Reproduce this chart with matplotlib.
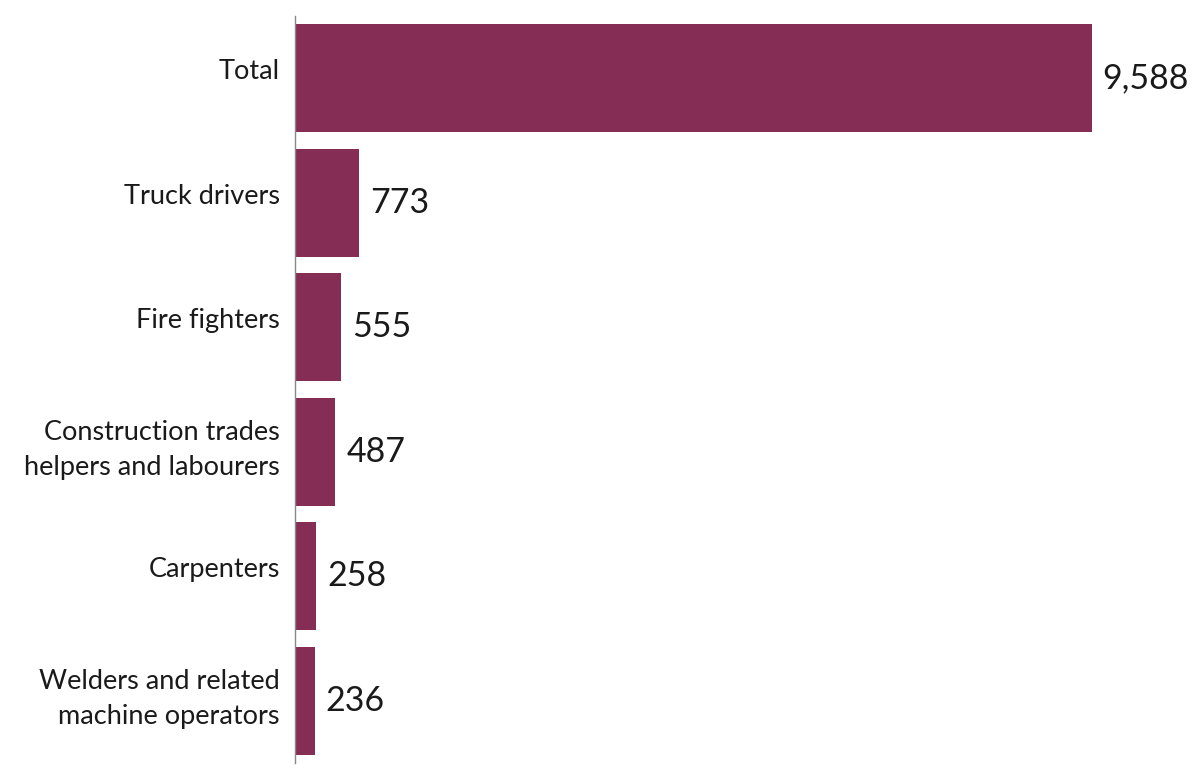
import matplotlib
matplotlib.use("Agg")
import matplotlib.pyplot as plt
from matplotlib.transforms import ScaledTranslation

# occupations and counts
categories = ["Total", "Truck drivers", "Fire fighters",
              "Construction trades\nhelpers and labourers", "Carpenters",
              "Welders and related\nmachine operators"]
values = [9588, 773, 555, 487, 258, 236]

plt.rcParams['font.family'] = ['Lato', 'DejaVu Sans']

fig = plt.figure(figsize=(12, 7.74), dpi=100)
ax = fig.add_axes([295 / 1200, 1 - 763 / 774, 895 / 1200, 747 / 774])

y = list(range(len(values)))
ax.barh(y, values, height=0.87, color="#862d56")
ax.set_ylim(len(values) - 0.5, -0.5)
ax.set_xlim(0, 10770)

for yi, v in zip(y, values):
    ax.text(v + 130, yi, f"{v:,}", va="center", ha="left",
            fontsize=24.5, color="#1a1a1a")

ax.set_yticks(y)
ax.set_yticklabels(categories, fontsize=19.5, color="#1a1a1a", linespacing=1.5)
ax.tick_params(axis="y", length=0, pad=11)
# labels sit a little above the bar centre
shift = ScaledTranslation(0, 9 / 100, fig.dpi_scale_trans)
for lab in ax.get_yticklabels():
    lab.set_transform(lab.get_transform() + shift)
ax.set_xticks([])
for s in ["top", "right", "bottom"]:
    ax.spines[s].set_visible(False)
ax.spines["left"].set_color("#888888")
ax.spines["left"].set_linewidth(1)

fig.savefig("out.png", dpi=100)
